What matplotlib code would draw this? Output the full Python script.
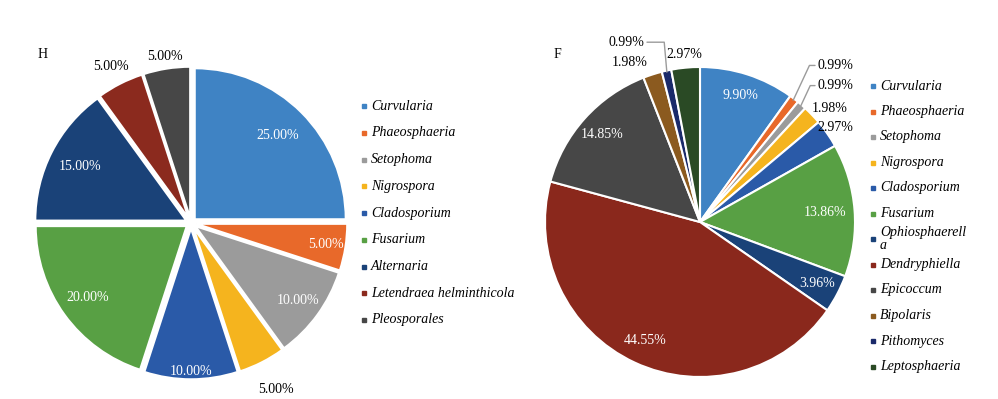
import matplotlib.pyplot as plt
import numpy as np
from matplotlib.lines import Line2D

plt.rcParams["font.family"] = "Liberation Serif"

# panel H
h_labels = ["Curvularia", "Phaeosphaeria", "Setophoma", "Nigrospora", "Cladosporium",
            "Fusarium", "Alternaria", "Letendraea helminthicola", "Pleosporales"]
h_values = [25.00, 5.00, 10.00, 5.00, 10.00, 20.00, 15.00, 5.00, 5.00]
h_colors = ["#3f83c4", "#e8692a", "#9b9b9b", "#f5b41e", "#2a5aa8",
            "#58a044", "#1a4278", "#8b2a1e", "#474747"]

# panel F
f_labels = ["Curvularia", "Phaeosphaeria", "Setophoma", "Nigrospora", "Cladosporium",
            "Fusarium", "Ophiosphaerell\na", "Dendryphiella", "Epicoccum", "Bipolaris",
            "Pithomyces", "Leptosphaeria"]
f_values = [9.90, 0.99, 0.99, 1.98, 2.97, 13.86, 3.96, 44.55, 14.85, 1.98, 0.99, 2.97]
f_colors = ["#3f83c4", "#e8692a", "#9b9b9b", "#f5b41e", "#2a5aa8", "#58a044",
            "#1a4278", "#8a281c", "#474747", "#8b5a1f", "#1a2a6a", "#2a4a25"]

W, H = 998, 399
fig = plt.figure(figsize=(W / 100, H / 100), dpi=100)


def pie_axes(cx, cy, r, half=1.15):
    w = 2 * half * r
    ax = fig.add_axes([(cx - w / 2) / W, (H - cy - w / 2) / H, w / W, w / H])
    return ax


def mid_point(w, dist):
    ang = np.deg2rad((w.theta1 + w.theta2) / 2)
    return w.center[0] + dist * np.cos(ang), w.center[1] + dist * np.sin(ang)


def legend(labels, colors, x, y0, dy):
    for i, (lab, c) in enumerate(zip(labels, colors)):
        y = 1 - (y0 + i * dy) / H
        fig.add_artist(Line2D([x / W], [y], transform=fig.transFigure, marker="s",
                              ms=3.3, color=c, ls="none"))
        fig.text((x + 7) / W, y, lab, style="italic", fontsize=10, va="center",
                 linespacing=1.0)


# ---- left pie (H)
ax1 = pie_axes(191, 223, 151)
wedges1, _ = ax1.pie(h_values, colors=h_colors, startangle=90, counterclock=False,
                     explode=[0.035] * len(h_values),
                     wedgeprops=dict(edgecolor="white", linewidth=1.5))
ax1.set_xlim(-1.15, 1.15)
ax1.set_ylim(-1.15, 1.15)
ax1.axis("off")

h_dist = [0.78, 0.87, 0.84, 1.2, 0.95, 0.81, 0.79, 1.13, 1.08]
for w, v, d in zip(wedges1, h_values, h_dist):
    x, y = mid_point(w, d)
    ax1.text(x, y, f"{v:.2f}%", ha="center", va="center", fontsize=10,
             color="white" if d < 1 else "black")

# ---- right pie (F)
ax2 = pie_axes(700, 222, 155)
wedges2, _ = ax2.pie(f_values, colors=f_colors, startangle=90, counterclock=False,
                     wedgeprops=dict(edgecolor="white", linewidth=1.5))
ax2.set_xlim(-1.15, 1.15)
ax2.set_ylim(-1.15, 1.15)
ax2.axis("off")

inside = {0: 0.86, 5: 0.81, 6: 0.85, 7: 0.84, 8: 0.85}
outside = {1: (0.76, 1.01, "left", 65), 2: (0.76, 0.88, "left", 65),
           3: (0.72, 0.73, "left", None), 4: (0.76, 0.61, "left", None),
           9: (-0.335, 1.03, "right", None), 10: (-0.36, 1.16, "right", 95),
           11: (-0.10, 1.08, "center", None)}
for i, (w, v) in enumerate(zip(wedges2, f_values)):
    txt = f"{v:.2f}%"
    if i in inside:
        x, y = mid_point(w, inside[i])
        ax2.text(x, y, txt, ha="center", va="center", fontsize=10, color="white")
    else:
        x, y, ha, lead = outside[i]
        if lead is None:
            ax2.text(x, y, txt, ha=ha, va="center", fontsize=10)
        else:
            ax2.annotate(txt, xy=mid_point(w, 0.99), xytext=(x, y), ha=ha, va="center",
                         fontsize=10,
                         arrowprops=dict(arrowstyle="-", color="#9b9b9b", lw=1,
                                         shrinkA=0, shrinkB=0,
                                         relpos=(0, 0.5) if ha == "left" else (1, 0.5),
                                         connectionstyle=f"angle,angleA=0,angleB={lead},rad=0"))

fig.text(43 / W, 1 - 55 / H, "H", ha="center", va="center", fontsize=10)
fig.text(557 / W, 1 - 55 / H, "F", ha="center", va="center", fontsize=10)

legend(h_labels, h_colors, 364, 106, 26.75)
legend(f_labels, f_colors, 873, 86, 25.5)

plt.savefig("out.png", dpi=100)
